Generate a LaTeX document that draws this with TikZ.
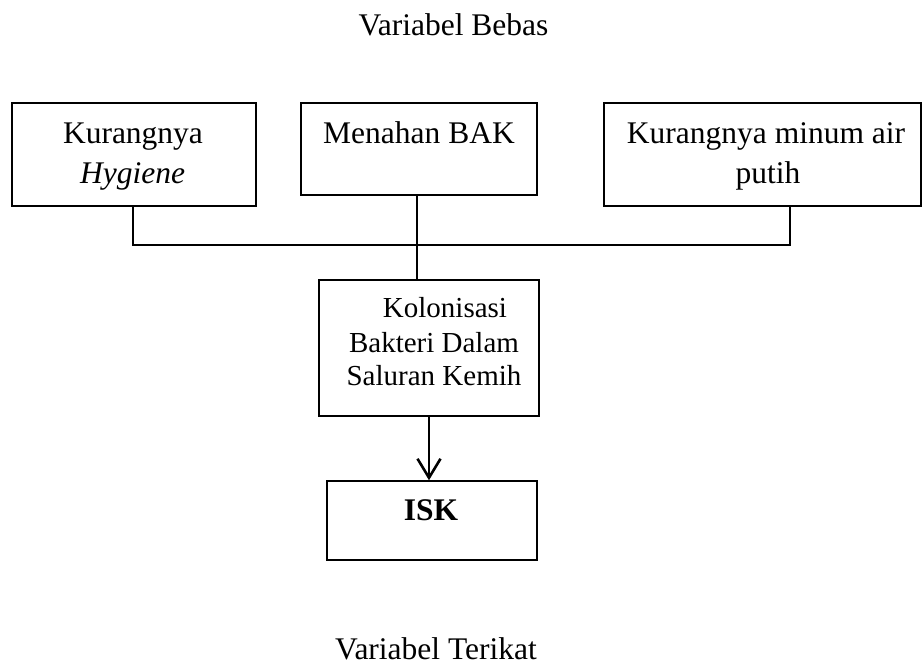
\documentclass[tikz,border=0pt]{standalone}
\usepackage{fontspec}
\setmainfont{Liberation Serif}
\usetikzlibrary{arrows.meta}
\begin{document}
\begin{tikzpicture}[x=1pt,y=-1pt,
  box/.style={draw=black, line width=1.5pt, rectangle, inner sep=0pt},
  txt/.style={anchor=base, inner sep=0pt, font=\fontsize{31.5pt}{38pt}\selectfont},
  smalltxt/.style={anchor=base, inner sep=0pt, font=\fontsize{29pt}{34pt}\selectfont},
  conn/.style={draw=black, line width=1.3pt},
  arr/.style={draw=black, line width=2.7pt, -{Straight Barb[length=19pt,width=23pt,line width=2.6pt]}}]
\useasboundingbox (0,0) rectangle (923,666);
% titles
\node[txt] (tbebas) at (453.5,36) {Variabel Bebas};
\node[txt] (tterikat) at (436,659) {Variabel Terikat};
% boxes
\node[box, minimum width=244pt, minimum height=103pt] (b1) at (134,154.5) {};
\node[box, minimum width=236pt, minimum height=92pt] (b2) at (419,149) {};
\node[box, minimum width=317pt, minimum height=103pt] (b3) at (762.5,154.5) {};
\node[box, minimum width=220pt, minimum height=136pt] (b4) at (429,348) {};
\node[box, minimum width=210pt, minimum height=79pt] (b5) at (432,520.5) {};
% box texts
\node[txt] (t1a) at (133,143) {Kurangnya};
\node[txt] (t1b) at (132.5,183) {\itshape Hygiene};
\node[txt] (t2) at (419,143) {Menahan BAK};
\node[txt] (t3a) at (766,143) {Kurangnya minum air};
\node[txt] (t3b) at (768,183) {putih};
\node[smalltxt] (t4a) at (445,317) {Kolonisasi};
\node[smalltxt] (t4b) at (434,352) {Bakteri Dalam};
\node[smalltxt] (t4c) at (434,385) {Saluran Kemih};
\node[txt] (t5) at (431,520) {\bfseries ISK};
% connectors
\coordinate (j) at (417,245);
\draw[conn] ([xshift=-1pt]b1.south) |- (j);
\draw[conn] ([xshift=27.5pt]b3.south) |- (j);
\draw[conn] ([xshift=-2pt]b2.south) -- ([xshift=-2pt]b2.south |- b4.north);
\draw[arr] (b4.south) -- (b4.south |- b5.north);
\end{tikzpicture}
\end{document}
